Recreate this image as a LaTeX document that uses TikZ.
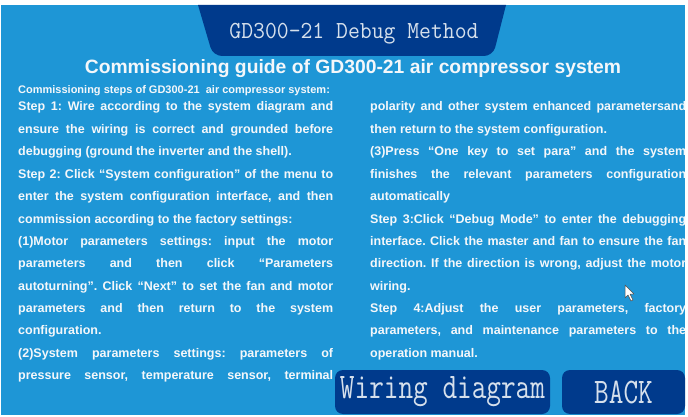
\documentclass[tikz,border=0pt]{standalone}
\usepackage{fontspec}
\setmainfont{Liberation Sans}
\usepackage{graphicx}
\usetikzlibrary{positioning}
\definecolor{panelblue}{RGB}{30,150,214}
\definecolor{tabblue}{RGB}{0,58,140}
\definecolor{screentext}{RGB}{244,247,250}
\definecolor{keytext}{RGB}{214,224,236}
\tolerance=10000 \hbadness=10000 \hyphenpenalty=10000
\frenchspacing
\tikzstyle{screenkey} = [fill=tabblue, rounded corners=8pt, inner sep=0pt, text=keytext]
\tikzstyle{column} = [text=screentext, font=\bfseries\fontsize{12.5}{22.4}\selectfont, text width=315pt, align=justify, inner sep=0pt, anchor=base west]
\newcommand{\keytxt}[3]{\scalebox{#1}[1]{\fontsize{#2}{#2}\selectfont\ttfamily #3}}

\begin{document}
\begin{tikzpicture}[x=1pt,y=-1pt]
\useasboundingbox (0,0) rectangle (688,417);
\fill[white] (0,0) rectangle (688,417);
\fill[panelblue] (1,5) rectangle (685,415);
% title tab
\fill[tabblue] (198,5) [rounded corners=9pt] -- (213,56) -- (493,56) [sharp corners] -- (506,5) -- cycle;
\node[inner sep=0pt, text=keytext] (title) at (354,34) {\keytxt{0.94}{24.5}{GD300-21 Debug Method}};

\node[inner sep=0pt, text=screentext, font=\bfseries\fontsize{19.3}{19.3}\selectfont, anchor=base] (heading) at (353,74) {Commissioning guide of GD300-21 air compressor system};
\node[inner sep=0pt, text=screentext, font=\bfseries\fontsize{11}{11}\selectfont, anchor=base west] (intro) at (18,94) {Commissioning steps of GD300-21\ \ air compressor system:};

% left column
\node[column] (left) at (18,111) {%
Step 1: Wire according to the system diagram and\linebreak
ensure the wiring is correct and grounded before\linebreak
debugging (ground the inverter and the shell).\par
Step 2: Click “System configuration” of the menu to\linebreak
enter the system configuration interface, and then\linebreak
commission according to the factory settings:\par
(1)Motor parameters settings: input the motor\linebreak
parameters and then click “Parameters\linebreak
autoturning”. Click “Next” to set the fan and motor\linebreak
parameters and then return to the system\linebreak
configuration.\par
(2)System parameters settings: parameters of\linebreak
pressure sensor, temperature sensor, terminal\parfillskip=0pt\par};

% right column
\node[column, text width=316pt] (right) at (370,111) {%
polarity and other system enhanced parametersand\linebreak
then return to the system configuration.\par
(3)Press “One key to set para” and the system\linebreak
finishes the relevant parameters configuration\linebreak
automatically\par
Step 3:Click “Debug Mode” to enter the debugging\linebreak
interface. Click the master and fan to ensure the fan\linebreak
direction. If the direction is wrong, adjust the motor\linebreak
wiring.\par
Step 4:Adjust the user parameters, factory\linebreak
parameters, and maintenance parameters to the\linebreak
operation manual.};

% buttons
\node[screenkey, minimum width=215pt, minimum height=44pt] (wiring) at (442.5,392) {\keytxt{0.79}{36}{Wiring diagram}};
\node[screenkey, minimum width=123pt, minimum height=44pt] (back) at (623.5,392) {\keytxt{0.79}{36}{BACK}};

% mouse pointer
\draw[fill=white, draw=black!70, line width=0.5pt, line join=round] (625,285) -- (625,298) -- (628,295) -- (631,301) -- (633,300) -- (630,294) -- (634,294) -- cycle;
\end{tikzpicture}
\end{document}
